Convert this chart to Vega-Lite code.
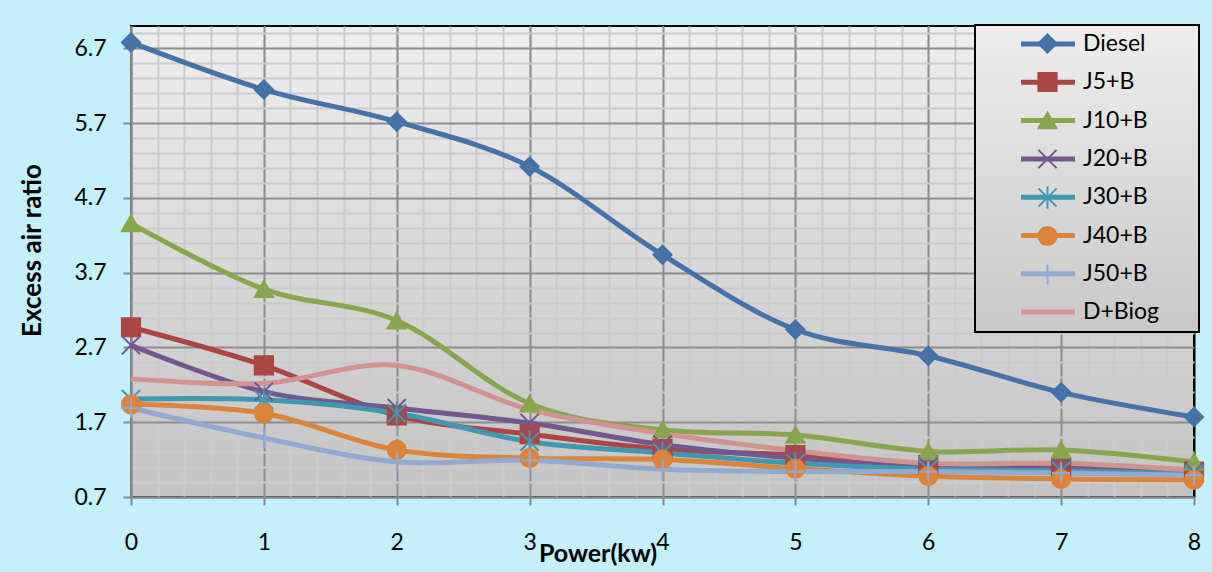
{
  "$schema": "https://vega.github.io/schema/vega-lite/v6.json",
  "width": 1063,
  "height": 471,
  "autosize": {"type": "none"},
  "padding": {"left": 131, "top": 26, "right": 18, "bottom": 75},
  "background": "#c4effc",
  "config": {
    "font": "Lato",
    "view": {
      "fill": {"gradient": "linear", "x1": 0, "y1": 0, "x2": 0, "y2": 1, "stops": [{"offset": 0, "color": "#eeeeee"}, {"offset": 1, "color": "#c3c3c3"}]},
      "stroke": "#000000",
      "strokeWidth": 2
    },
    "axis": {"labelFont": "Lato", "titleFont": "Lato"},
    "legend": {"labelFont": "Lato", "titleFont": "Lato"}
  },
  "data": {
    "values": [
      {"series": "Diesel", "power": 0, "ratio": 6.78},
      {"series": "Diesel", "power": 1, "ratio": 6.15},
      {"series": "Diesel", "power": 2, "ratio": 5.72},
      {"series": "Diesel", "power": 3, "ratio": 5.12},
      {"series": "Diesel", "power": 4, "ratio": 3.94},
      {"series": "Diesel", "power": 5, "ratio": 2.94},
      {"series": "Diesel", "power": 6, "ratio": 2.59},
      {"series": "Diesel", "power": 7, "ratio": 2.10},
      {"series": "Diesel", "power": 8, "ratio": 1.77},
      {"series": "J5+B", "power": 0, "ratio": 2.97},
      {"series": "J5+B", "power": 1, "ratio": 2.46},
      {"series": "J5+B", "power": 2, "ratio": 1.79},
      {"series": "J5+B", "power": 3, "ratio": 1.54},
      {"series": "J5+B", "power": 4, "ratio": 1.34},
      {"series": "J5+B", "power": 5, "ratio": 1.26},
      {"series": "J5+B", "power": 6, "ratio": 1.13},
      {"series": "J5+B", "power": 7, "ratio": 1.10},
      {"series": "J5+B", "power": 8, "ratio": 1.04},
      {"series": "J10+B", "power": 0, "ratio": 4.36},
      {"series": "J10+B", "power": 1, "ratio": 3.48},
      {"series": "J10+B", "power": 2, "ratio": 3.06},
      {"series": "J10+B", "power": 3, "ratio": 1.95},
      {"series": "J10+B", "power": 4, "ratio": 1.60},
      {"series": "J10+B", "power": 5, "ratio": 1.53},
      {"series": "J10+B", "power": 6, "ratio": 1.31},
      {"series": "J10+B", "power": 7, "ratio": 1.33},
      {"series": "J10+B", "power": 8, "ratio": 1.17},
      {"series": "J20+B", "power": 0, "ratio": 2.73},
      {"series": "J20+B", "power": 1, "ratio": 2.11},
      {"series": "J20+B", "power": 2, "ratio": 1.89},
      {"series": "J20+B", "power": 3, "ratio": 1.69},
      {"series": "J20+B", "power": 4, "ratio": 1.40},
      {"series": "J20+B", "power": 5, "ratio": 1.22},
      {"series": "J20+B", "power": 6, "ratio": 1.10},
      {"series": "J20+B", "power": 7, "ratio": 1.08},
      {"series": "J20+B", "power": 8, "ratio": 1.03},
      {"series": "J30+B", "power": 0, "ratio": 2.01},
      {"series": "J30+B", "power": 1, "ratio": 2.00},
      {"series": "J30+B", "power": 2, "ratio": 1.82},
      {"series": "J30+B", "power": 3, "ratio": 1.44},
      {"series": "J30+B", "power": 4, "ratio": 1.29},
      {"series": "J30+B", "power": 5, "ratio": 1.15},
      {"series": "J30+B", "power": 6, "ratio": 1.07},
      {"series": "J30+B", "power": 7, "ratio": 1.05},
      {"series": "J30+B", "power": 8, "ratio": 1.01},
      {"series": "J40+B", "power": 0, "ratio": 1.94},
      {"series": "J40+B", "power": 1, "ratio": 1.82},
      {"series": "J40+B", "power": 2, "ratio": 1.33},
      {"series": "J40+B", "power": 3, "ratio": 1.22},
      {"series": "J40+B", "power": 4, "ratio": 1.20},
      {"series": "J40+B", "power": 5, "ratio": 1.08},
      {"series": "J40+B", "power": 6, "ratio": 0.98},
      {"series": "J40+B", "power": 7, "ratio": 0.94},
      {"series": "J40+B", "power": 8, "ratio": 0.93},
      {"series": "J50+B", "power": 0, "ratio": 1.89},
      {"series": "J50+B", "power": 1, "ratio": 1.49},
      {"series": "J50+B", "power": 2, "ratio": 1.17},
      {"series": "J50+B", "power": 3, "ratio": 1.19},
      {"series": "J50+B", "power": 4, "ratio": 1.07},
      {"series": "J50+B", "power": 5, "ratio": 1.04},
      {"series": "J50+B", "power": 6, "ratio": 1.04},
      {"series": "J50+B", "power": 7, "ratio": 1.02},
      {"series": "J50+B", "power": 8, "ratio": 0.99},
      {"series": "D+Biog", "power": 0, "ratio": 2.28},
      {"series": "D+Biog", "power": 1, "ratio": 2.22},
      {"series": "D+Biog", "power": 2, "ratio": 2.46},
      {"series": "D+Biog", "power": 3, "ratio": 1.87},
      {"series": "D+Biog", "power": 4, "ratio": 1.55},
      {"series": "D+Biog", "power": 5, "ratio": 1.32},
      {"series": "D+Biog", "power": 6, "ratio": 1.15},
      {"series": "D+Biog", "power": 7, "ratio": 1.15},
      {"series": "D+Biog", "power": 8, "ratio": 1.06}
    ]
  },
  "layer": [
    {
      "mark": {"type": "line", "interpolate": "cardinal", "strokeWidth": 5},
      "encoding": {
        "x": {
          "field": "power", "type": "quantitative",
          "scale": {"domain": [0, 8], "nice": false, "zero": false},
          "axis": {"orient": "bottom", "values": [0,0.2,0.4,0.6,0.8,1,1.2,1.4,1.6,1.8,2,2.2,2.4,2.6,2.8,3,3.2,3.4,3.6,3.8,4,4.2,4.4,4.6,4.8,5,5.2,5.4,5.6,5.8,6,6.2,6.4,6.6,6.8,7,7.2,7.4,7.6,7.8], "grid": true, "gridColor": "#cbcbcb", "gridWidth": 2, "domain": false, "ticks": false, "labels": false, "title": null}
        },
        "y": {
          "field": "ratio", "type": "quantitative",
          "scale": {"domain": [0.7, 7.0], "nice": false, "zero": false},
          "axis": {"orient": "left", "values": [0.9,1.1,1.3,1.5,1.9,2.1,2.3,2.5,2.9,3.1,3.3,3.5,3.9,4.1,4.3,4.5,4.9,5.1,5.3,5.5,5.9,6.1,6.3,6.5,6.9], "grid": true, "gridColor": "#cbcbcb", "gridWidth": 2, "domain": false, "ticks": false, "labels": false, "title": null}
        },
        "color": {
          "field": "series", "type": "nominal",
          "scale": {
            "domain": ["Diesel", "J5+B", "J10+B", "J20+B", "J30+B", "J40+B", "J50+B", "D+Biog"],
            "range": ["#4572A7", "#AA4643", "#89A54E", "#71588F", "#4198AF", "#DB843D", "#93A9CF", "#D19392"]
          },
          "legend": {
            "orient": "none", "legendX": 844, "legendY": -1, "zindex": 1,
            "title": " ", "titleOrient": "right", "titlePadding": 33, "titleFontSize": 23,
            "padding": 7, "symbolType": "M-2.97,0L2.97,0", "symbolSize": 330, "symbolStrokeWidth": 5,
            "symbolOffset": 54, "labelOffset": 23, "labelFontSize": 23, "labelColor": "#000000",
            "rowPadding": 14.3, "gridAlign": "all", "strokeColor": "#000000", "fillColor": "#dddddd",
            "encode": {
              "legend": {"update": {
                "fill": {"value": {"gradient": "linear", "x1": 0, "y1": 0, "x2": 0, "y2": 1, "stops": [{"offset": 0, "color": "#eeeeee"}, {"offset": 1, "color": "#c8c8c8"}]}},
                "stroke": {"value": "#000000"},
                "strokeWidth": {"value": 2}
              }}
            }
          }
        }
      }
    },
    {
      "transform": [{"filter": "datum.series !== 'D+Biog'"}],
      "mark": {"type": "point", "filled": true, "size": 330, "strokeWidth": 2, "opacity": 1},
      "encoding": {
        "x": {
          "field": "power", "type": "quantitative",
          "axis": {"orient": "bottom", "values": [0,1,2,3,4,5,6,7,8], "format": "d", "grid": true,
            "gridColor": {"condition": {"test": "datum.value === 8", "value": "#000000"}, "value": "#8d8d8d"},
            "gridWidth": 2, "domain": true, "domainColor": "#868686", "domainWidth": 2,
            "ticks": true, "tickColor": "#868686", "tickWidth": 2, "tickSize": 8,
            "labelFontSize": 23, "labelColor": "#000000", "labelPadding": 26, "labelFlush": false,
            "title": "Power(kw)", "titleFontSize": 25, "titleFontWeight": "bold", "titleColor": "#000000",
            "titleX": 466.5, "titleY": 56, "titleAlign": "center", "titleBaseline": "middle"}
        },
        "y": {
          "field": "ratio", "type": "quantitative",
          "axis": {"orient": "left", "values": [0.7,1.7,2.7,3.7,4.7,5.7,6.7], "format": ".1f", "grid": true,
            "gridColor": "#8d8d8d", "gridWidth": 2, "domain": true, "domainColor": "#868686", "domainWidth": 2,
            "ticks": true, "tickColor": "#868686", "tickWidth": 2, "tickSize": 8,
            "labelFontSize": 23, "labelColor": "#000000", "labelPadding": 17,
            "title": "Excess air ratio", "titleFontSize": 26, "titleFontWeight": "bold", "titleColor": "#000000",
            "titleX": -98.5, "titleY": 224, "titleAngle": 270, "titleAlign": "center", "titleBaseline": "middle"}
        },
        "shape": {
          "field": "series", "type": "nominal",
          "scale": {
            "domain": ["Diesel", "J5+B", "J10+B", "J20+B", "J30+B", "J40+B", "J50+B"],
            "range": ["diamond", "square", "triangle-up", "M-1,-1L1,1M-1,1L1,-1", "M-1,-1L1,1M-1,1L1,-1M0,-1.23L0,1.23", "circle", "M-1,0L1,0M0,-1.1L0,1.1"]
          },
          "legend": {"orient": "none", "legendX": 844, "legendY": -1, "zindex": 2, "title": null, "padding": 7, "symbolSize": 330, "symbolStrokeWidth": 2, "symbolOffset": 54, "labelOffset": 23, "labelFontSize": 23, "labelExpr": "''", "rowPadding": 7.5, "gridAlign": "all", "strokeColor": null, "fillColor": null}
        },
        "fill": {
          "field": "series", "type": "nominal",
          "scale": {
            "domain": ["Diesel", "J5+B", "J10+B", "J20+B", "J30+B", "J40+B", "J50+B"],
            "range": ["#4572A7", "#AA4643", "#89A54E", "#71588F", "#4198AF", "#DB843D", "#93A9CF"]
          },
          "legend": {"orient": "none", "legendX": 844, "legendY": -1, "zindex": 2, "title": null, "padding": 7, "symbolSize": 330, "symbolStrokeWidth": 2, "symbolOffset": 54, "labelOffset": 23, "labelFontSize": 23, "labelExpr": "''", "rowPadding": 7.5, "gridAlign": "all", "strokeColor": null, "fillColor": null}
        },
        "stroke": {
          "field": "series", "type": "nominal",
          "scale": {
            "domain": ["Diesel", "J5+B", "J10+B", "J20+B", "J30+B", "J40+B", "J50+B"],
            "range": ["#4572A7", "#AA4643", "#89A54E", "#71588F", "#4198AF", "#DB843D", "#93A9CF"]
          },
          "legend": {"orient": "none", "legendX": 844, "legendY": -1, "zindex": 2, "title": null, "padding": 7, "symbolSize": 330, "symbolStrokeWidth": 2, "symbolOffset": 54, "labelOffset": 23, "labelFontSize": 23, "labelExpr": "''", "rowPadding": 7.5, "gridAlign": "all", "strokeColor": null, "fillColor": null}
        }
      }
    }
  ],
  "resolve": {"axis": {"x": "independent", "y": "independent"}}
}
